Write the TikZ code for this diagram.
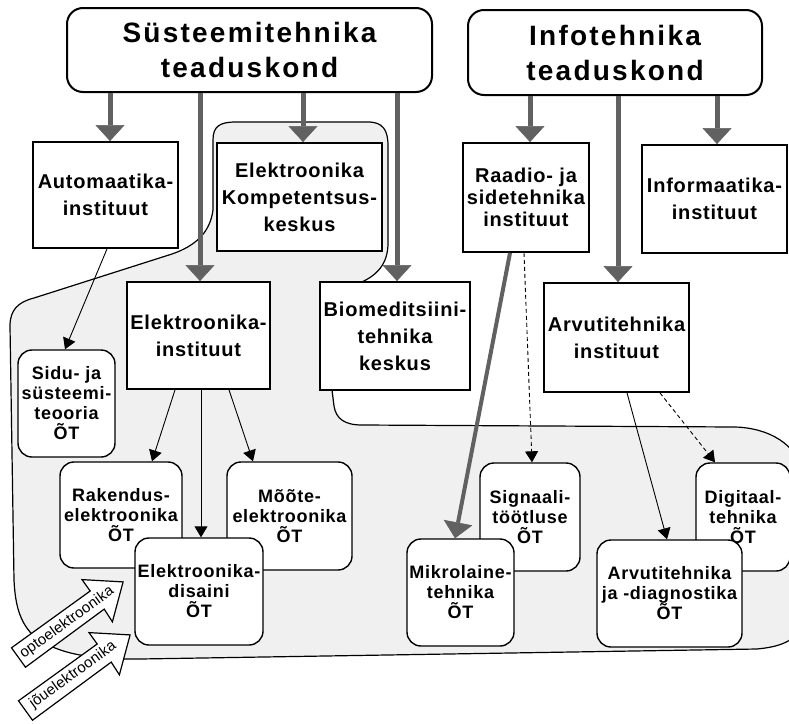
\documentclass[tikz,border=0pt]{standalone}
\usepackage{fontspec}
\setmainfont{Liberation Sans}[LetterSpace=4]
\usetikzlibrary{arrows.meta,calc}
\begin{document}
\begin{tikzpicture}[x=1pt,y=-1pt,
  inst/.style={draw, line width=1.8pt, fill=white, align=center, inner sep=0pt, font=\fontsize{20}{27}\selectfont\bfseries},
  topbox/.style={draw, line width=2pt, rounded corners=16pt, fill=white, align=center, inner sep=0pt, font=\fontsize{28}{35}\selectfont\bfseries\addfontfeature{LetterSpace=8}},
  otbox/.style={draw, line width=1.4pt, rounded corners=14pt, fill=white, align=center, inner sep=0pt, font=\fontsize{18}{20}\selectfont\bfseries},
  bigarrow/.style={draw=black!62, line width=5pt, -{Triangle[width=29pt,length=16pt,line width=0.6pt,fill=black!62]}},
  thinarrow/.style={draw=black, line width=0.9pt, -{Triangle[width=13pt,length=11pt]}},
  dasharrow/.style={thinarrow, dash pattern=on 4pt off 3pt},
  region/.style={draw=black, line width=1.2pt, fill=black!6},
  blockarrow/.style={draw=black, line width=1.2pt, fill=white, line join=miter},
  arrowtext/.style={font=\fontsize{15}{15}\selectfont\addfontfeature{LetterSpace=1}, inner sep=0pt, rotate=35.9}
]
\useasboundingbox (0,0) rectangle (789,723);
\clip (0,0) rectangle (789,723);

% shaded region
\path[region] (213,210) -- (213,140) .. controls (213,126) and (220,122) .. (236,122)
  -- (368,122) .. controls (383,122) and (388,130) .. (388,146)
  -- (388,243) .. controls (388,263) and (378,276) .. (357,284)
  -- (332,390) -- (334,406) .. controls (336,419) and (345,425) .. (362,425)
  -- (735,427) .. controls (770,428) and (796,445) .. (802,470)
  -- (802,628) .. controls (792,643) and (777,647) .. (757,649)
  -- (140,659) .. controls (80,660) and (48,650) .. (30,632)
  .. controls (18,618) and (15,600) .. (14,580)
  -- (10,326) .. controls (10,310) and (18,302) .. (34,298)
  -- (172,254) .. controls (195,246) and (210,233) .. (213,210) -- cycle;

% top level
\node[topbox, minimum width=365pt, minimum height=84pt] (sys) at (249.5,50) {Süsteemitehnika\\teaduskond};
\node[topbox, minimum width=294pt, minimum height=85pt] (info) at (615,52.5) {Infotehnika\\teaduskond};

% institutes
\node[inst, minimum width=145pt, minimum height=106pt] (auto) at (105.5,195) {Automaatika-\\instituut};
\node[inst, minimum width=165pt, minimum height=108pt] (ekk) at (299.5,197) {Elektroonika\\Kompetentsus-\\keskus};
\node[inst, minimum width=126pt, minimum height=109pt, font=\fontsize{20}{22}\selectfont\bfseries] (raadio) at (526,197.5) {Raadio- ja\\sidetehnika\\instituut};
\node[inst, minimum width=145pt, minimum height=108pt] (infor) at (714.5,199) {Informaatika-\\instituut};
\node[inst, minimum width=143pt, minimum height=107pt] (ei) at (198.5,335.5) {Elektroonika-\\instituut};
\node[inst, minimum width=150pt, minimum height=108pt] (bio) at (395,336) {Biomeditsiini-\\tehnika\\keskus};
\node[inst, minimum width=145pt, minimum height=109pt] (ati) at (616.5,337.5) {Arvutitehnika\\instituut};

% chairs
\node[otbox, minimum width=97pt, minimum height=107pt] (sidu) at (66.5,403.5) {Sidu- ja\\süsteemi-\\teooria\\ÕT};
\node[otbox, minimum width=122pt, minimum height=106pt] (rak) at (121,515) {Rakendus-\\elektroonika\\ÕT};
\node[otbox, minimum width=125pt, minimum height=108pt] (moo) at (289.5,516) {Mõõte-\\elektroonika\\ÕT};
\node[otbox, minimum width=128pt, minimum height=107pt] (dis) at (199,591.5) {Elektroonika-\\disaini\\ÕT};
\node[otbox, minimum width=100pt, minimum height=108pt] (sig) at (530,517) {Signaali-\\töötluse\\ÕT};
\node[otbox, minimum width=107pt, minimum height=107pt] (mik) at (460.5,592.5) {Mikrolaine-\\tehnika\\ÕT};
\node[otbox, minimum width=94pt, minimum height=108pt] (dig) at (743,517) {Digitaal-\\tehnika\\ÕT};
\node[otbox, minimum width=145pt, minimum height=107pt] (ajd) at (669.5,593.5) {Arvutitehnika\\ja -diagnostika\\ÕT};

% block arrows
\path[blockarrow] (11.5,647.8) -- (90.2,591.0) -- (82.0,579.6) -- (123.1,581.9) -- (112.4,621.8) -- (104.2,609.1) -- (25.5,667.2) -- cycle;
\path[blockarrow] (18.5,700.8) -- (97.2,644.0) -- (89.0,632.6) -- (130.1,634.9) -- (119.4,674.8) -- (111.2,662.1) -- (32.5,720.2) -- cycle;
\node[arrowtext] (opto) at (67,622.5) {optoelektroonika};
\node[arrowtext] (jou) at (73,675) {jõuelektroonika};

% thick arrows from faculties
\coordinate (a1) at ($(auto.north)+(4.5,0)$);
\coordinate (a2) at ($(ei.north)+(1.5,0)$);
\coordinate (a3) at ($(ekk.north)+(3.5,0)$);
\coordinate (a4) at ($(bio.north)+(2,0)$);
\coordinate (a5) at ($(raadio.north)+(4,0)$);
\coordinate (a6) at ($(ati.north)+(1.5,0)$);
\coordinate (a7) at ($(infor.north)+(2.5,0)$);
\draw[bigarrow] (sys.south -| a1) -- (a1);
\draw[bigarrow] (sys.south -| a2) -- (a2);
\draw[bigarrow] (sys.south -| a3) -- (a3);
\draw[bigarrow] (sys.south -| a4) -- (a4);
\draw[bigarrow] (info.south -| a5) -- (a5);
\draw[bigarrow] (info.south -| a6) -- (a6);
\draw[bigarrow] (info.south -| a7) -- (a7);

% other connectors
\draw[thinarrow] ($(auto.south)+(1.5,0)$) -- ($(sidu.north)+(-1.5,0)$);
\draw[thinarrow] ($(ei.south)+(-23.5,0)$) -- ($(rak.north)+(31,0)$);
\draw[thinarrow] ($(ei.south)+(2.5,0)$) -- ($(dis.north)+(2,0)$);
\draw[thinarrow] ($(ei.south)+(30.5,0)$) -- ($(moo.north)+(-36.5,0)$);
\draw[bigarrow, line width=4pt] ($(raadio.south)+(-16,0)$) -- ($(mik.north)+(-5.5,0)$);
\draw[dasharrow] ($(raadio.south)+(-2,0)$) -- ($(sig.north)+(2,0)$);
\draw[thinarrow] ($(ati.south)+(10.5,0)$) -- ($(ajd.north)+(-2.5,0)$);
\draw[dasharrow] ($(ati.south)+(43.5,0)$) -- ($(dig.north)+(-28,0)$);
\end{tikzpicture}
\end{document}
